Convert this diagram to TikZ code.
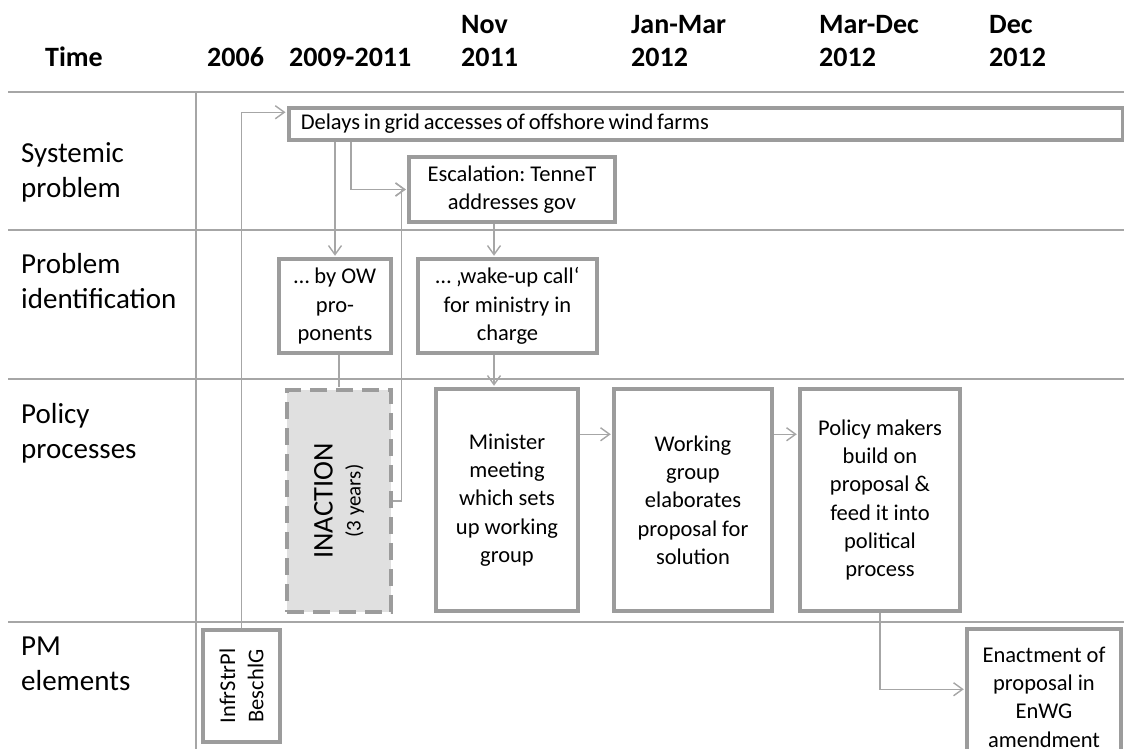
\documentclass[tikz,border=0pt]{standalone}
\usepackage{fontspec}
\setmainfont{Carlito}
\usetikzlibrary{
	calc,
	arrows.meta
}
\frenchspacing

\definecolor{linegray}{HTML}{A6A6A6}
\definecolor{boxgray}{HTML}{9C9C9C}
\definecolor{inactgray}{HTML}{E0E0E0}

\begin{document}
\begin{tikzpicture}[
	x=1pt, y=-1pt,
	>={Straight Barb[length=9pt,width=13pt]},
	grid/.style={draw=linegray, line width=1.4pt},
	conn/.style={draw=linegray, line width=1.4pt, shorten >=1.5pt},
	box/.style={draw=boxgray, line width=3.5pt, fill=white, align=center, inner sep=0,
		font=\fontsize{22.5}{28.3}\selectfont},
	lbl/.style={anchor=base west, align=left, inner sep=0, font=\fontsize{29}{35}\selectfont},
	hdr/.style={anchor=base west, align=left, inner sep=0, font=\fontsize{28}{33}\selectfont\bfseries}
]
	\useasboundingbox (0,0) rectangle (1124,749);
	\clip (0,0) rectangle (1124,749);

	\foreach \y in {92,230,379,622}
		\draw[grid] (8,\y) -- (1124,\y);
	\draw[grid] (196,92) -- (196,749);

	\node[hdr] (time) at (45,67) {Time};
	\node[hdr] (y2006) at (207,67) {2006};
	\node[hdr] (y2009) at (289,67) {2009-2011};
	\node[hdr] (nov) at (461,67) {Nov\\2011};
	\node[hdr] (janmar) at (631,67) {Jan-Mar\\2012};
	\node[hdr] (mardec) at (819,67) {Mar-Dec\\2012};
	\node[hdr] (dec) at (989,67) {Dec\\2012};

	\node[lbl] (systemic) at (21,197) {Systemic\\problem};
	\node[lbl] (ident) at (21,308) {Problem\\identification};
	\node[lbl] (process) at (21,458) {Policy\\processes};
	\node[lbl] (pmel) at (21,690) {PM\\elements};

	\node[box, anchor=west, align=left, text width=810, inner xsep=12, minimum height=32]
		(delays) at (287,124) {\spaceskip=3.8pt plus 1pt\relax Delays in grid accesses of offshore wind farms};
	\node[box, minimum width=206, minimum height=65] (esc) at (512,189.5) {Escalation: TenneT\\addresses gov};
	\node[box, minimum width=112, minimum height=94] (byow) at (335,306) {… by OW\\pro-\\ponents};
	\node[box, minimum width=179, minimum height=94] (wake) at (507.5,306) {… ‚wake-up call‘\\for ministry in\\charge};
	\node[box, dashed, dash pattern=on 17pt off 9pt, fill=inactgray,
		minimum width=104, minimum height=222,
		label={[rotate=90, align=center, font=\fontsize{21}{28}\selectfont]center:{\fontsize{28.5}{28}\selectfont INACTION}\\(3 years)}]
		(inaction) at (339,501) {};
	\node[box, minimum width=142, minimum height=222] (minister) at (507,500) {Minister\\meeting\\which sets\\up working\\group};
	\node[box, minimum width=158, minimum height=222] (working) at (693,500) {Working\\group\\elaborates\\proposal for\\solution};
	\node[box, minimum width=160, minimum height=222] (policy) at (880,500) {Policy makers\\build on\\proposal \&\\feed it into\\political\\process};
	\node[box, minimum width=77, minimum height=112,
		label={[rotate=90, align=center, font=\fontsize{22.5}{28.3}\selectfont]center:InfrStrPl\\BeschlG}]
		(infra) at (241.5,686) {};
	\node[box, minimum width=154, minimum height=136] (enact) at (1044,697) {Enactment of\\proposal in\\EnWG\\amendment};

	\draw[conn,->] (infra.north) |- ($(delays.north west)+(0,6)$);
	\draw[conn,->] (byow.north |- delays.south) -- (byow.north);
	\draw[conn,->] ($(delays.south west)+(64,0)$) |- (esc.west);
	\draw[conn] (byow.south -| inaction.north) -- (inaction.north);
	\draw[conn,->] (inaction.east) -- ++(9,0) |- (esc.west);
	\draw[conn,->] ($(esc.south)+(-18,0)$) -- ($(wake.north)+(-13.5,0)$);
	\draw[conn,->] ($(wake.south)+(-13.5,0)$) -- ($(minister.north)+(-13,0)$);
	\draw[conn,->] ($(minister.north east)+(0,47)$) -- ($(working.north west)+(0,47)$);
	\draw[conn,->] ($(working.north east)+(0,47)$) -- ($(policy.north west)+(0,47)$);
	\draw[conn,->] (policy.south) |- ($(enact.north west)+(0,62)$);
\end{tikzpicture}
\end{document}
